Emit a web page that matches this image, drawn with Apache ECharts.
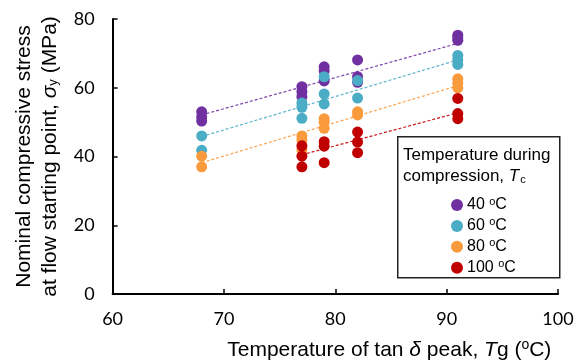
<!DOCTYPE html>
<html>
<head>
<meta charset="utf-8">
<script src="https://cdn.jsdelivr.net/npm/echarts@6/dist/echarts.min.js"></script>
<style>html,body{margin:0;padding:0;background:#fff}#c{width:586px;height:362px}</style>
</head>
<body>
<div id="c"></div>
<script>
// Data: [Tg (°C), stress (MPa)]
const legendNames = ['40 °C', '60 °C', '80 °C', '100 °C'];
const s40 = [[68,53.0],[68,51.5],[68,50.3],[77,60.3],[77,58.9],[77,57.4],[79,66.1],[79,64.9],[79,62.0],[82,68.1],[82,63.2],[82,61.6],[91,75.3],[91,74.5],[91,73.8]];
const s60 = [[68,46.0],[68,41.8],[77,55.6],[77,54.3],[77,51.1],[79,63.2],[79,58.2],[79,55.3],[82,62.1],[82,57.0],[91,69.4],[91,68.1],[91,66.8]];
const s80 = [[68,40.1],[68,37.0],[77,46.0],[77,44.8],[77,41.9],[79,51.0],[79,50.0],[79,48.2],[82,53.0],[82,52.1],[91,62.6],[91,61.3],[91,60.0]];
const s100 = [[77,43.1],[77,40.1],[77,37.0],[79,44.3],[79,43.0],[79,38.2],[82,47.1],[82,44.2],[82,41.1],[91,56.9],[91,52.5],[91,51.0]];
// Dashed trend lines (end points)
const t40 = [[68,52.1],[91,72.9]];
const t60 = [[68,45.8],[91,68.1]];
const t80 = [[68,38.2],[91,60.6]];
const t100 = [[77,40.5],[91,52.7]];
const xTicks = [60, 70, 80, 90, 100];
const yTicks = [0, 20, 40, 60, 80];

const colors = ['#7030A0', '#4BACC6', '#F99A3D', '#C00000'];
const scatterData = [s40, s60, s80, s100];
const trendData = [t40, t60, t80, t100];

const chart = echarts.init(document.getElementById('c'), null, {renderer: 'canvas'});
const series = [];
trendData.forEach((d, i) => {
  series.push({
    type: 'line', name: 'trend' + i, data: d, symbol: 'none', z: 1,
    lineStyle: {color: colors[i], width: 1.2, type: [3, 2], opacity: 0.9},
    silent: true
  });
});
scatterData.forEach((d, i) => {
  series.push({
    type: 'scatter', name: legendNames[i], data: d, symbolSize: 11, z: 2 + i,
    itemStyle: {color: colors[i], opacity: 1}
  });
});

const option = {
  animation: false,
  backgroundColor: '#fff',
  grid: {left: 112.6, right: 28, top: 19, bottom: 68, containLabel: false, outerBoundsMode: 'none'},
  xAxis: {
    type: 'value', min: xTicks[0], max: xTicks[xTicks.length - 1], interval: 10,
    name: 'Temperature of tan {i|δ} peak, {i|T}g ({sup|o}C)',
    nameLocation: 'middle', nameGap: 45,
    nameTextStyle: {
      fontFamily: 'Liberation Sans', fontSize: 21, color: '#000', lineHeight: 22,
      padding: [0, 0, 0, 108],
      rich: {
        i: {fontFamily: 'Liberation Sans', fontSize: 21, fontStyle: 'italic', color: '#000', lineHeight: 22},
        sup: {fontFamily: 'Liberation Sans', fontSize: 14, color: '#000', padding: [0, 0, 9, 0], lineHeight: 22}
      }
    },
    axisLine: {show: true, onZero: false, lineStyle: {color: '#000', width: 2}},
    axisTick: {show: true, inside: true, length: 5, lineStyle: {color: '#000', width: 1.5}},
    axisLabel: {fontFamily: 'Lato', fontSize: 18, color: '#000', margin: 16},
    splitLine: {show: false}
  },
  yAxis: {
    type: 'value', min: yTicks[0], max: yTicks[yTicks.length - 1], interval: 20,
    name: 'Nominal compressive stress\nat flow starting point, {i|σ}{sub|y} (MPa)',
    nameLocation: 'middle', nameRotate: 90, nameGap: 49,
    nameTextStyle: {
      fontFamily: 'Liberation Sans', fontSize: 21, color: '#000', lineHeight: 26, align: 'center',
      rich: {
        i: {fontFamily: 'Liberation Sans', fontSize: 21, fontStyle: 'italic', color: '#000', lineHeight: 26},
        sub: {fontFamily: 'Liberation Sans', fontSize: 13, color: '#000', padding: [8, 0, 0, 0], lineHeight: 26}
      }
    },
    axisLine: {show: true, onZero: false, lineStyle: {color: '#000', width: 2}},
    axisTick: {show: true, inside: true, length: 5, lineStyle: {color: '#000', width: 1.5}},
    axisLabel: {fontFamily: 'Lato', fontSize: 18, color: '#000', margin: 18},
    splitLine: {show: false}
  },
  legend: {
    data: legendNames,
    orient: 'vertical', left: 446, top: 191,
    icon: 'circle', itemWidth: 12, itemHeight: 12, itemGap: 3.9,
    selectedMode: false,
    formatter: function (n) { return n.replace(' °C', ' {sup|o}C'); },
    textStyle: {
      fontFamily: 'Liberation Sans', fontSize: 16, color: '#000', padding: [0, 0, 0, -1],
      rich: {
        sup: {fontFamily: 'Liberation Sans', fontSize: 11, color: '#000', padding: [0, 0, 7, 0]}
      }
    }
  },
  graphic: [
    {
      type: 'rect', left: 397, top: 136, z: 0,
      shape: {width: 162, height: 141},
      style: {fill: '#fff', stroke: '#222', lineWidth: 1.5}
    },
    {
      type: 'text', left: 403, top: 145, z: 10,
      style: {
        text: 'Temperature during\ncompression, {i|T}{sub|c}',
        font: '17px "Liberation Sans"', fill: '#000', lineHeight: 21,
        rich: {
          i: {font: 'italic 17px "Liberation Sans"', fill: '#000', lineHeight: 21},
          sub: {font: '11px "Liberation Sans"', fill: '#000', padding: [7, 0, 0, 1], lineHeight: 21}
        }
      }
    }
  ],
  series: series
};
chart.setOption(option);
</script>
</body>
</html>
